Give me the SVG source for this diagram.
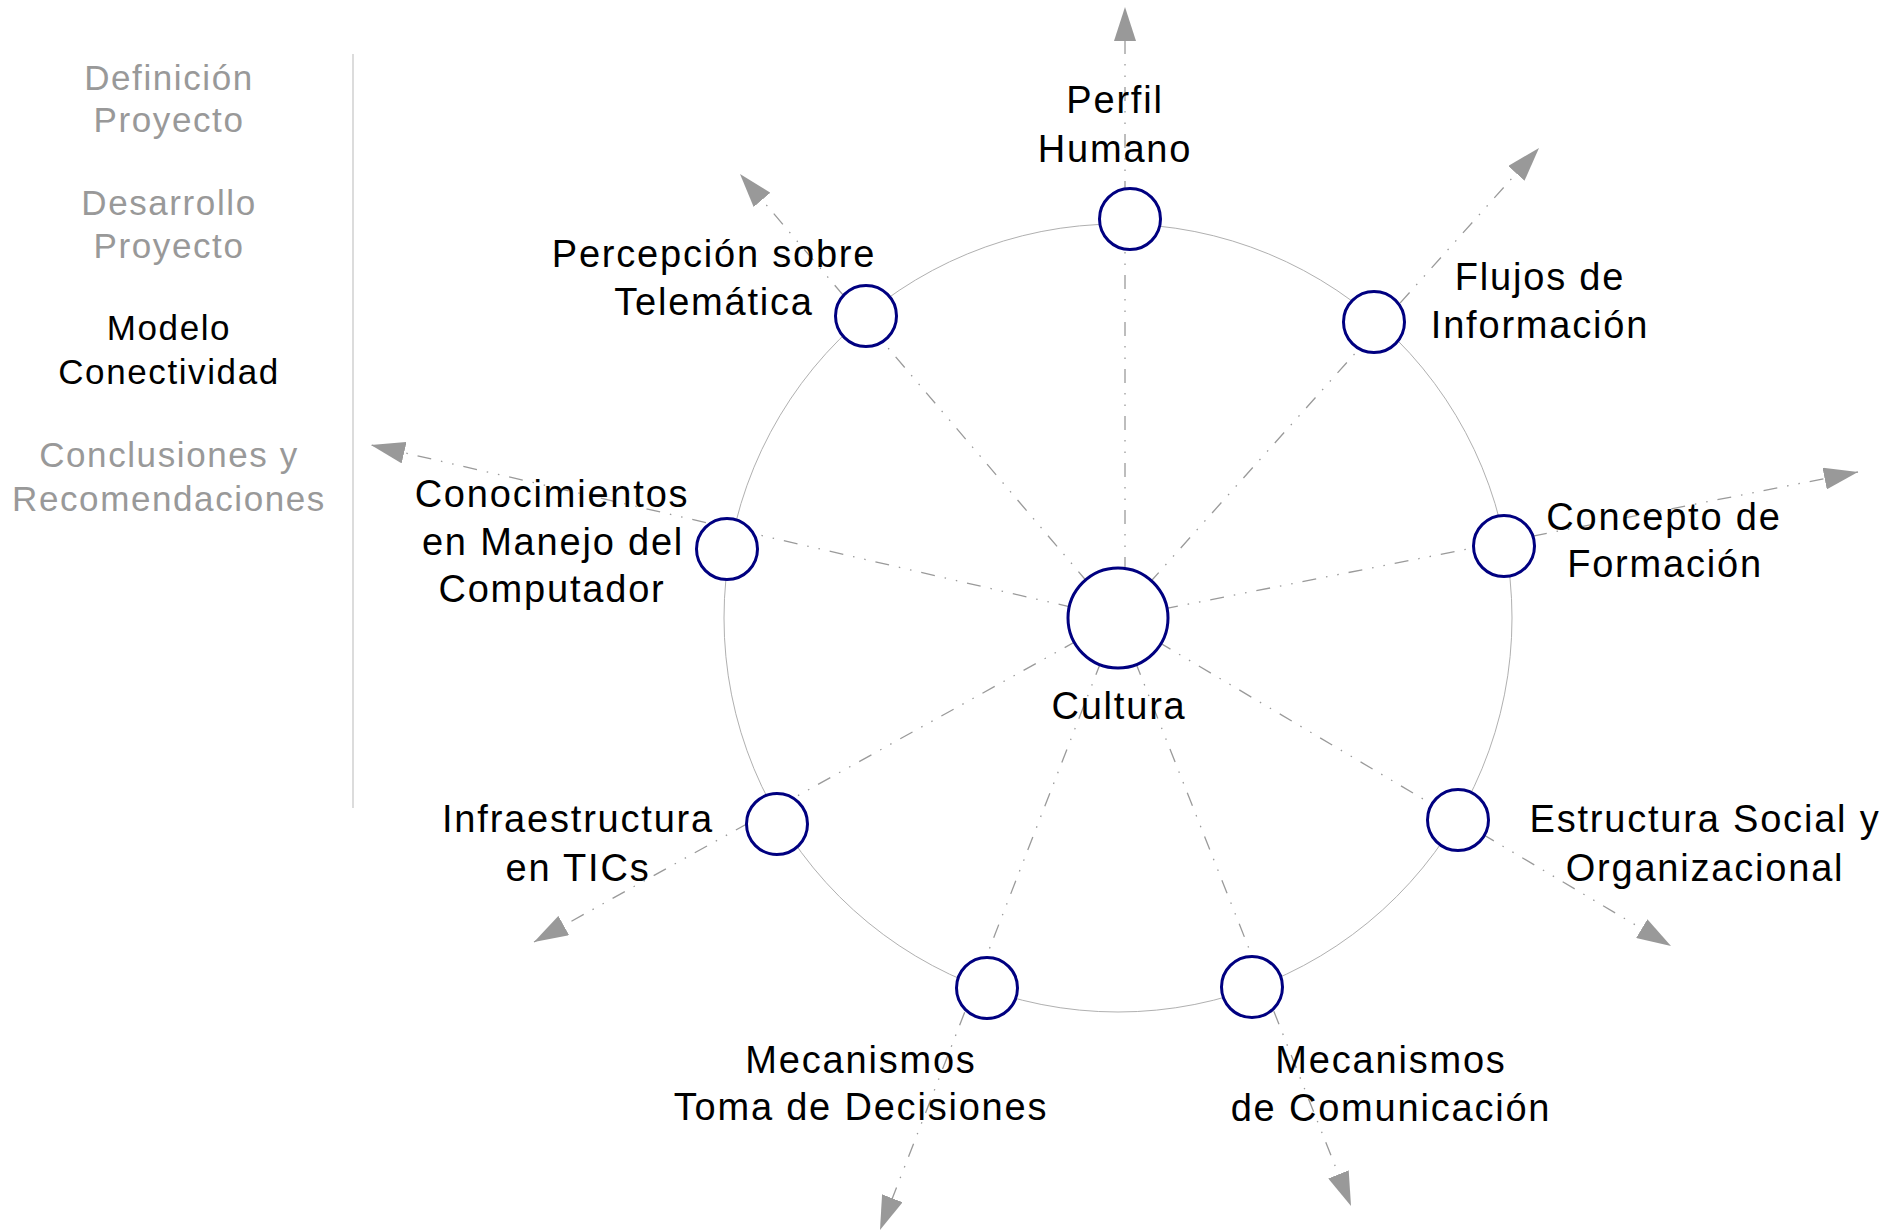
<svg xmlns="http://www.w3.org/2000/svg" width="1897" height="1231" viewBox="0 0 1897 1231">
  <style>
    .lbl { font-family: "Liberation Sans", Arial, sans-serif; font-size: 38px; fill: #000; text-anchor: middle; letter-spacing: 1.8px; }
    .nav { font-family: "Liberation Sans", Arial, sans-serif; font-size: 35px; fill: #999; text-anchor: middle; letter-spacing: 1.6px; }
    .nav.on { fill: #000; }
    .node { fill: #fff; stroke: #000080; stroke-width: 3; }
    .ray { stroke: #9a9a9a; stroke-width: 1.3; fill: none; stroke-dasharray: 14 10 1.5 10 1.5 10; marker-end: url(#arr); }
  </style>
  <defs>
    <marker id="arr" markerUnits="userSpaceOnUse" markerWidth="34" markerHeight="22" refX="34" refY="11" orient="auto">
      <path d="M0,0 L34,11 L0,22 z" fill="#999"/>
    </marker>
  </defs>
  <rect width="1897" height="1231" fill="#fff"/>

  <g id="nav">
    <line x1="353" y1="54" x2="353" y2="808" stroke="#dcdcdc" stroke-width="2"/>
    <text class="nav" x="169" y="90">Definición</text>
    <text class="nav" x="169" y="132">Proyecto</text>
    <text class="nav" x="169" y="215">Desarrollo</text>
    <text class="nav" x="169" y="258">Proyecto</text>
    <text class="nav on" x="169" y="340">Modelo</text>
    <text class="nav on" x="169" y="384">Conectividad</text>
    <text class="nav" x="169" y="467">Conclusiones y</text>
    <text class="nav" x="169" y="511">Recomendaciones</text>
  </g>

  <circle id="ring" cx="1118" cy="618" r="394" fill="none" stroke="#b0b0b0" stroke-width="1"/>

  <g id="connectors">
    <line class="ray" x1="1125" y1="618" x2="1125" y2="7"/>
    <line class="ray" x1="1118" y1="618" x2="1539" y2="148"/>
    <line class="ray" x1="1118" y1="618" x2="1858" y2="472"/>
    <line class="ray" x1="1118" y1="618" x2="1671" y2="946"/>
    <line class="ray" x1="1118" y1="618" x2="1351" y2="1206"/>
    <line class="ray" x1="1118" y1="618" x2="880" y2="1230"/>
    <line class="ray" x1="1118" y1="618" x2="534" y2="942"/>
    <line class="ray" x1="1118" y1="618" x2="371" y2="445"/>
    <line class="ray" x1="1118" y1="618" x2="740" y2="174"/>
  </g>

  <g id="cultura">
    <circle class="node" cx="1118" cy="618" r="50"/>
    <text class="lbl" x="1119" y="719">Cultura</text>
  </g>
  <g id="perfil">
    <circle class="node" cx="1130" cy="219" r="30.5"/>
    <text class="lbl" x="1115" y="113">Perfil</text>
    <text class="lbl" x="1115" y="162">Humano</text>
  </g>
  <g id="flujos">
    <circle class="node" cx="1374" cy="322" r="30.5"/>
    <text class="lbl" x="1540" y="290">Flujos de</text>
    <text class="lbl" x="1540" y="338">Información</text>
  </g>
  <g id="concepto">
    <circle class="node" cx="1504" cy="546" r="30.5"/>
    <text class="lbl" x="1664" y="530">Concepto de</text>
    <text class="lbl" x="1665" y="577">Formación</text>
  </g>
  <g id="estructura">
    <circle class="node" cx="1458" cy="820" r="30.5"/>
    <text class="lbl" x="1705" y="832">Estructura Social y</text>
    <text class="lbl" x="1705" y="881">Organizacional</text>
  </g>
  <g id="comunicacion">
    <circle class="node" cx="1252" cy="987" r="30.5"/>
    <text class="lbl" x="1391" y="1073">Mecanismos</text>
    <text class="lbl" x="1391" y="1121">de Comunicación</text>
  </g>
  <g id="decisiones">
    <circle class="node" cx="987" cy="988" r="30.5"/>
    <text class="lbl" x="861" y="1073">Mecanismos</text>
    <text class="lbl" x="861" y="1120">Toma de Decisiones</text>
  </g>
  <g id="infraestructura">
    <circle class="node" cx="777" cy="824" r="30.5"/>
    <text class="lbl" x="578" y="832">Infraestructura</text>
    <text class="lbl" x="578" y="881">en TICs</text>
  </g>
  <g id="conocimientos">
    <circle class="node" cx="727" cy="549" r="30.5"/>
    <text class="lbl" x="552" y="507">Conocimientos</text>
    <text class="lbl" x="553" y="555">en Manejo del</text>
    <text class="lbl" x="552" y="602">Computador</text>
  </g>
  <g id="percepcion">
    <circle class="node" cx="866" cy="316" r="30.5"/>
    <text class="lbl" x="714" y="267">Percepción sobre</text>
    <text class="lbl" x="714" y="315">Telemática</text>
  </g>
</svg>
